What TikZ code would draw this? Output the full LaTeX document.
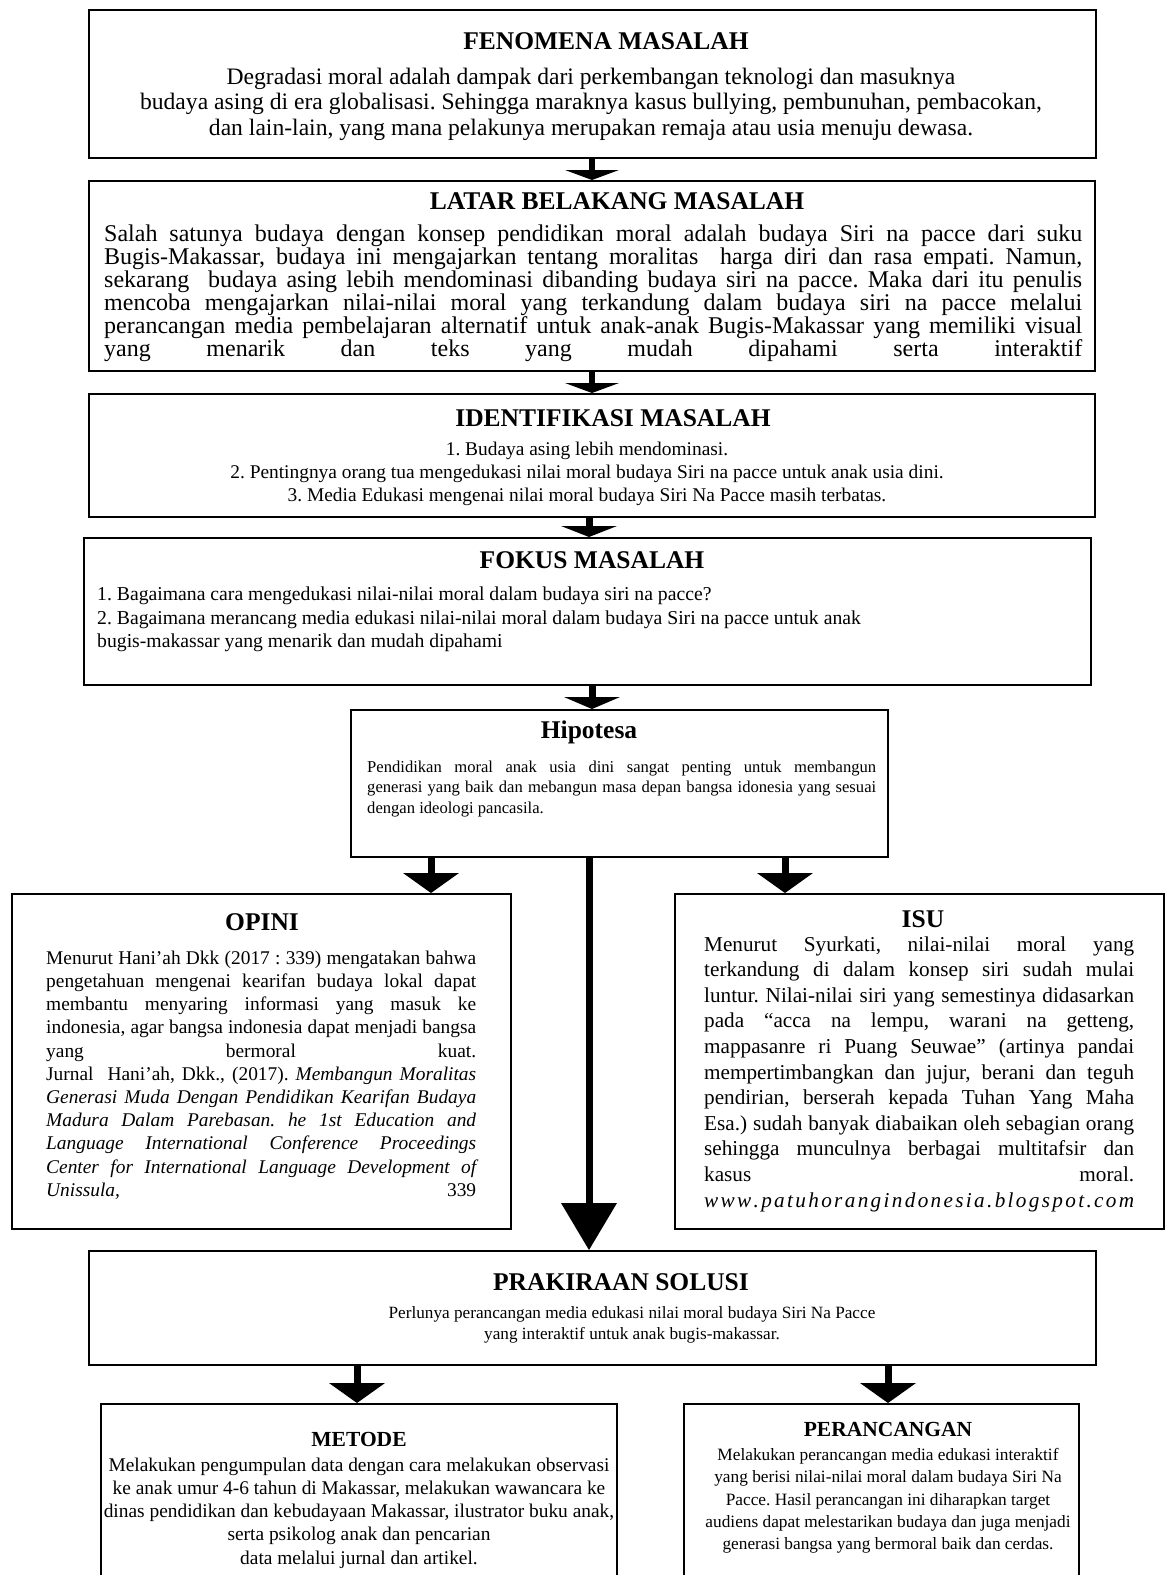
\documentclass[tikz,border=0pt]{standalone}
\usepackage{fontspec}
\setmainfont{Liberation Serif}
\usetikzlibrary{arrows.meta}
\frenchspacing
\newlength\jw
\newcommand\JL[1]{\makebox[\jw][s]{#1}}
\newcommand\fs[2]{\fontsize{#1}{#2}\selectfont}
\newcommand\hf{\hfill}
\begin{document}
\frenchspacing
\begin{tikzpicture}[x=1pt,y=-1pt,
  box/.style={draw=black, line width=1.8pt, rectangle, anchor=north west, inner sep=0pt},
  ttl/.style={font=\bfseries\fs{25.5}{28}, inner sep=0pt},
  ttls/.style={font=\bfseries\fs{21.5}{24}, inner sep=0pt},
  txt/.style={inner sep=0pt, align=center},
  jtxt/.style={inner sep=0pt, align=left, anchor=west},
  arr/.style={line width=7pt, -{Triangle[width=56pt,length=#1,line width=0pt]}},
  arr/.default=20pt,
  sarr/.style={line width=6pt, -{Triangle[width=54pt,length=10pt,line width=0pt]}}
]
\useasboundingbox (0,0) rectangle (1166,1575);
\fill[white] (0,0) rectangle (1166,1575);
\clip (0,0) rectangle (1166,1575);

% ---------- boxes ----------
\node[box, minimum width=1007pt, minimum height=148pt] (b1) at (88,9) {};
\node[box, minimum width=1006pt, minimum height=190pt] (b2) at (88,180) {};
\node[box, minimum width=1006pt, minimum height=123pt] (b3) at (88,393) {};
\node[box, minimum width=1007pt, minimum height=147pt] (b4) at (83,537) {};
\node[box, minimum width=537pt, minimum height=147pt] (hip) at (350,709) {};
\node[box, minimum width=499pt, minimum height=335pt] (opini) at (11,893) {};
\node[box, minimum width=489pt, minimum height=335pt] (isu) at (674,893) {};
\node[box, minimum width=1007pt, minimum height=114pt] (prak) at (88,1250) {};
\node[box, minimum width=516pt, minimum height=220pt] (metode) at (100,1403) {};
\node[box, minimum width=395pt, minimum height=220pt] (peran) at (683,1403) {};

% ---------- box 1 ----------
\node[ttl] (b1t) at (606,41) {FENOMENA MASALAH};
\node[txt, font=\fs{23.6}{25.4}] (b1x) at (591,104) {Degradasi moral adalah dampak dari perkembangan teknologi dan masuknya\\
budaya asing di era globalisasi. Sehingga maraknya kasus bullying, pembunuhan, pembacokan,\\
dan lain-lain, yang mana pelakunya merupakan remaja atau usia menuju dewasa.};

% ---------- box 2 ----------
\node[ttl] (b2t) at (617,201) {LATAR BELAKANG MASALAH};
\node[jtxt, font={\fs{24}{23.1}\setlength\jw{978pt}}] (b2x) at (104,293.5) {%
\JL{Salah satunya budaya dengan konsep pendidikan moral adalah budaya Siri na pacce dari suku}\\
\JL{Bugis-Makassar, budaya ini mengajarkan tentang moralitas \ harga diri dan rasa empati. Namun,}\\
\JL{sekarang \ budaya asing lebih mendominasi dibanding budaya siri na pacce. Maka dari itu penulis}\\
\JL{mencoba mengajarkan nilai-nilai moral yang terkandung dalam budaya siri na pacce melalui}\\
\JL{perancangan media pembelajaran alternatif untuk anak-anak Bugis-Makassar yang memiliki visual}\\
\JL{yang menarik dan teks yang mudah dipahami serta interaktif}};

% ---------- box 3 ----------
\node[ttl] (b3t) at (613,418) {IDENTIFIKASI MASALAH};
\node[txt, font=\fs{19.4}{23}] (b3x) at (587,473.5) {1. Budaya asing lebih mendominasi.\\
2. Pentingnya orang tua mengedukasi nilai moral budaya Siri na pacce untuk anak usia dini.\\
3. Media Edukasi mengenai nilai moral budaya Siri Na Pacce masih terbatas.};

% ---------- box 4 ----------
\node[ttl] (b4t) at (592,560) {FOKUS MASALAH};
\node[jtxt, font=\fs{19.7}{23.5}] (b4x) at (97,619.5) {1. Bagaimana cara mengedukasi nilai-nilai moral dalam budaya siri na pacce?\\
2. Bagaimana merancang media edukasi nilai-nilai moral dalam budaya Siri na pacce untuk anak\\
bugis-makassar yang menarik dan mudah dipahami};

% ---------- hipotesa ----------
\node[ttl] (hipt) at (589,732) {Hipotesa};
\node[jtxt, font={\fs{16.6}{20.8}\setlength\jw{509pt}}] (hipx) at (367,789) {%
\JL{Pendidikan moral anak usia dini sangat penting untuk membangun}\\
\JL{generasi yang baik dan mebangun masa depan bangsa idonesia yang sesuai}\\
dengan ideologi pancasila.};

% ---------- opini ----------
\node[ttl] (opt) at (262,922) {OPINI};
\node[jtxt, font={\fs{19.4}{23.2}\setlength\jw{430pt}}] (opx) at (46,1075) {%
\JL{Menurut Hani’ah Dkk (2017 : 339) mengatakan bahwa}\\
\JL{pengetahuan mengenai kearifan budaya lokal dapat}\\
\JL{membantu menyaring informasi yang masuk ke}\\
\JL{indonesia, agar bangsa indonesia dapat menjadi bangsa}\\
\JL{yang bermoral kuat.}\\
\JL{Jurnal \ Hani’ah, Dkk., (2017). \textit{Membangun Moralitas}}\\
\JL{\itshape Generasi Muda Dengan Pendidikan Kearifan Budaya}\\
\JL{\itshape Madura Dalam Parebasan. he 1st Education and}\\
\JL{\itshape Language International Conference Proceedings}\\
\JL{\itshape Center for International Language Development of}\\
\JL{\textit{Unissula,} 339}};

% ---------- isu ----------
\node[ttl] (isut) at (923,919) {ISU};
\node[jtxt, font={\fs{21.2}{25.6}\setlength\jw{430pt}}] (isux) at (704,1074) {%
\JL{Menurut Syurkati, nilai-nilai moral yang}\\
\JL{terkandung di dalam konsep siri sudah mulai}\\
\JL{luntur. Nilai-nilai siri yang semestinya didasarkan}\\
\JL{pada “acca na lempu, warani na getteng,}\\
\JL{mappasanre ri Puang Seuwae” (artinya pandai}\\
\JL{mempertimbangkan dan jujur, berani dan teguh}\\
\JL{pendirian, berserah kepada Tuhan Yang Maha}\\
\JL{Esa.) sudah banyak diabaikan oleh sebagian orang}\\
\JL{sehingga munculnya berbagai multitafsir dan}\\
\JL{kasus moral.}\\
\makebox[\jw]{\itshape w\hf w\hf w\hf .\hf p\hf a\hf t\hf u\hf h\hf o\hf r\hf a\hf n\hf g\hf i\hf n\hf d\hf o\hf n\hf e\hf s\hf i\hf a\hf .\hf b\hf l\hf o\hf g\hf s\hf p\hf o\hf t\hf .\hf c\hf o\hf m}};

% ---------- prakiraan ----------
\node[ttl] (prakt) at (621,1282) {PRAKIRAAN SOLUSI};
\node[txt, font=\fs{17.2}{21}] (prakx) at (632,1324.5) {Perlunya perancangan media edukasi nilai moral budaya Siri Na Pacce\\
yang interaktif untuk anak bugis-makassar.};

% ---------- metode ----------
\node[ttls] (mett) at (359,1439) {METODE};
\node[txt, font=\fs{19.4}{23.2}] (metx) at (359,1513) {Melakukan pengumpulan data dengan cara melakukan observasi\\
ke anak umur 4-6 tahun di Makassar, melakukan wawancara ke\\
dinas pendidikan dan kebudayaan Makassar, ilustrator buku anak,\\
serta psikolog anak dan pencarian\\
data melalui jurnal dan artikel.};

% ---------- perancangan ----------
\node[ttls] (pert) at (888,1429) {PERANCANGAN};
\node[txt, font=\fs{17.3}{22.3}] (perx) at (888,1501) {Melakukan perancangan media edukasi interaktif\\
yang berisi nilai-nilai moral dalam budaya Siri Na\\
Pacce. Hasil perancangan ini diharapkan target\\
audiens dapat melestarikan budaya dan juga menjadi\\
generasi bangsa yang bermoral baik dan cerdas.};

% ---------- connectors ----------
\coordinate (xa) at (592,0);
\coordinate (xb) at (589,0);
\coordinate (xl) at (431,0);
\coordinate (xr) at (785,0);
\coordinate (xm) at (357,0);
\coordinate (xp) at (888,0);
\draw[sarr] (b1.south -| xa) -- (b2.north -| xa);
\draw[sarr] (b2.south -| xa) -- (b3.north -| xa);
\draw[arr=11pt] (b3.south -| xb) -- (b4.north -| xb);
\draw[arr=12pt] (b4.south -| xa) -- (hip.north -| xa);
\draw[arr] (hip.south -| xl) -- (opini.north -| xl);
\draw[arr] (hip.south -| xr) -- (isu.north -| xr);
\draw[arr=47pt] (hip.south -| xb) -- (prak.north -| xb);
\draw[arr] (prak.south -| xm) -- (metode.north -| xm);
\draw[arr] (prak.south -| xp) -- (peran.north -| xp);
\end{tikzpicture}
\end{document}
